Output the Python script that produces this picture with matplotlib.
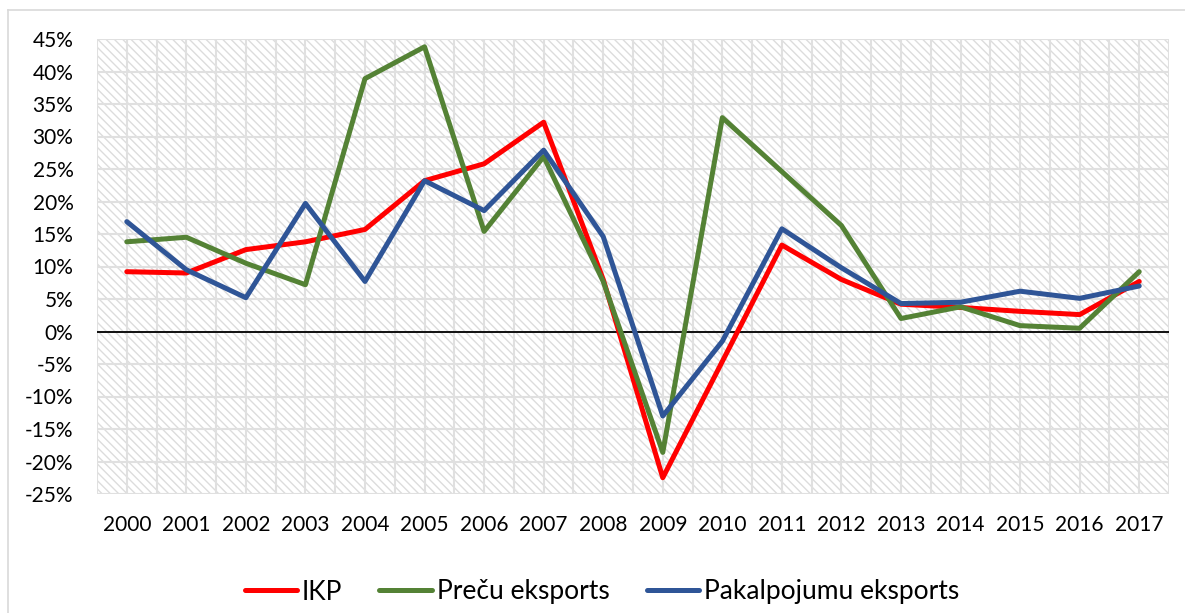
import numpy as np
import matplotlib
matplotlib.use("Agg")
import matplotlib.pyplot as plt
from matplotlib.patches import Rectangle
from matplotlib.ticker import FuncFormatter, MultipleLocator

years = [str(y) for y in range(2000, 2018)]

# Pieaugums, %
ikp = [9.2, 9.0, 12.6, 13.8, 15.7, 23.2, 25.8, 32.2, 8.0, -22.5,
       -4.6, 13.3, 8.0, 4.2, 3.7, 3.1, 2.6, 7.7]
preces = [13.8, 14.5, 10.5, 7.2, 38.9, 43.8, 15.4, 26.9, 7.7, -18.6,
          32.9, 24.6, 16.3, 2.0, 3.8, 0.9, 0.5, 9.2]
pakalpojumi = [16.9, 9.5, 5.2, 19.7, 7.7, 23.2, 18.6, 27.9, 14.6, -13.0,
               -1.5, 15.8, 9.8, 4.3, 4.5, 6.2, 5.1, 7.0]

series = [
    ("IKP", ikp, "#FF0000"),
    ("Preču eksports", preces, "#548235"),
    ("Pakalpojumu eksports", pakalpojumi, "#2F5597"),
]

plt.rcParams["font.family"] = ["Lato", "DejaVu Sans"]

fig = plt.figure(figsize=(11.85, 6.13), dpi=100)
ax = fig.add_axes([97 / 1185, 1 - 494 / 613, (1169 - 97) / 1185, (494 - 39) / 613])

# iesvītrots fons
bg = Rectangle((0, 0), 1, 1, transform=ax.transAxes, facecolor="white",
               edgecolor="#dcdcdc", hatch="\\\\\\\\", linewidth=0, zorder=0)
ax.add_patch(bg)

x = np.arange(len(years))
for name, vals, col in series:
    ax.plot(x, vals, color=col, linewidth=3.6, label=name,
            solid_capstyle="round", solid_joinstyle="round", zorder=3)

ax.axhline(0, color="black", linewidth=1.3, zorder=2)

ax.set_xlim(-0.5, len(years) - 0.5)
ax.set_ylim(-25, 45)
ax.yaxis.set_major_locator(MultipleLocator(5))
ax.yaxis.set_major_formatter(FuncFormatter(lambda v, p: f"{v:.0f}%"))
ax.set_xticks(x)
ax.set_xticklabels(years)
ax.set_xticks(np.arange(-0.5, len(years), 1.0), minor=True)

ax.grid(axis="y", color="#e0e0e0", linewidth=1.5, zorder=1)
ax.grid(axis="x", which="both", color="#e0e0e0", linewidth=1.5, zorder=1)
ax.set_axisbelow(True)

for s in ax.spines.values():
    s.set_visible(False)
ax.tick_params(axis="both", which="both", length=0, labelsize=15)
ax.tick_params(axis="x", pad=15)
ax.tick_params(axis="y", pad=17)

# ārējais rāmis
fig.add_artist(plt.Line2D([8 / 1185, 8 / 1185], [0, 1 - 10 / 613],
                          transform=fig.transFigure, color="#d9d9d9", linewidth=1.2))
fig.add_artist(plt.Line2D([8 / 1185, 1], [1 - 10 / 613, 1 - 10 / 613],
                          transform=fig.transFigure, color="#d9d9d9", linewidth=1.2))

fig.legend(loc="center", bbox_to_anchor=(0.508, 1 - 592 / 613), ncol=3,
           frameon=False, fontsize=19, handlelength=2.0, handletextpad=0.18,
           columnspacing=1.4)

fig.savefig("out.png", dpi=100)
